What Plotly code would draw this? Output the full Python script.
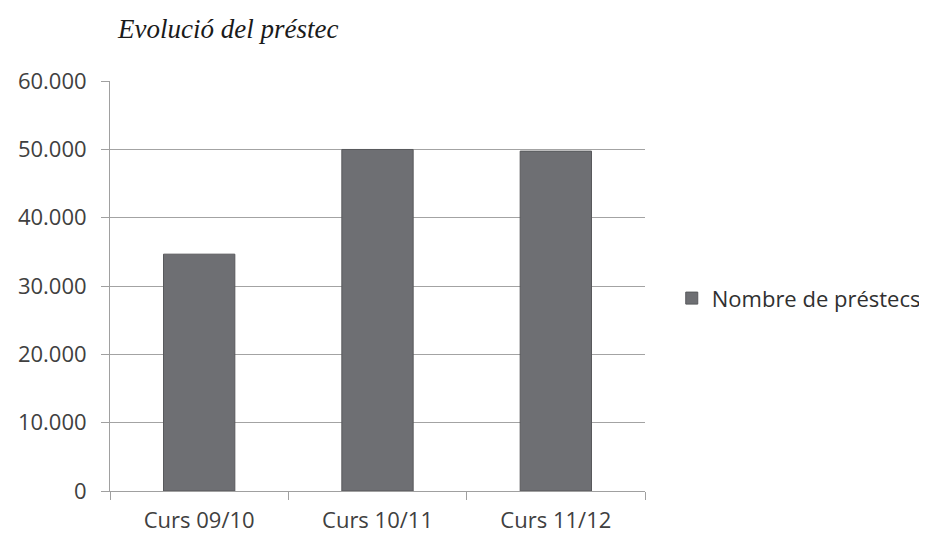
import plotly.graph_objects as go

categories = ["Curs 09/10", "Curs 10/11", "Curs 11/12"]
values = [34660, 49980, 49740]
series_name = "Nombre de préstecs"
title_text = "Evolució del préstec"
y_ticks = [0, 10000, 20000, 30000, 40000, 50000, 60000]

# page body has an 8px margin, so the figure is offset by 8px
W, H = 919, 530

fig = go.Figure()
fig.add_trace(go.Bar(
    x=categories, y=values, name=series_name,
    marker=dict(color="#6e6f73", line=dict(color="#58595c", width=1)),
    width=0.4, showlegend=True,
))

fig.update_layout(
    width=W, height=H,
    paper_bgcolor="white", plot_bgcolor="white",
    margin=dict(l=102, r=282, t=73, b=47, autoexpand=False),
    separators=",.",
    font=dict(family="Open Sans, Noto Sans, sans-serif", size=22, color="#404040"),
    title=dict(text=f"<i>{title_text}</i>", x=110/W, xanchor="left", y=1-21/H, yanchor="middle",
               font=dict(family="Liberation Serif, serif", size=27, color="#1a1a1a")),
    showlegend=True,
    legend=dict(x=1.05, xanchor="left", y=0.47, yanchor="middle",
                font=dict(size=22, color="#303030"), itemwidth=30, bgcolor="rgba(0,0,0,0)"),
    bargap=0.6,
)
fig.update_yaxes(range=[0, 60000], tickvals=y_ticks, tickformat=",d",
                 showgrid=True, gridcolor="#a3a3a3", gridwidth=1,
                 showline=True, linecolor="#a0a0a0", linewidth=1,
                 ticks="outside", ticklen=8, tickcolor="#a0a0a0",
                 ticklabelstandoff=10,
                 zeroline=False, tickfont=dict(size=22, color="#404040"))
fig.update_xaxes(showline=True, linecolor="#a0a0a0", linewidth=1,
                 ticks="outside", ticklen=8, tickcolor="#a0a0a0", tickson="boundaries",
                 ticklabelstandoff=10,
                 tickfont=dict(size=22, color="#404040"))

fig.write_html("out.html")
